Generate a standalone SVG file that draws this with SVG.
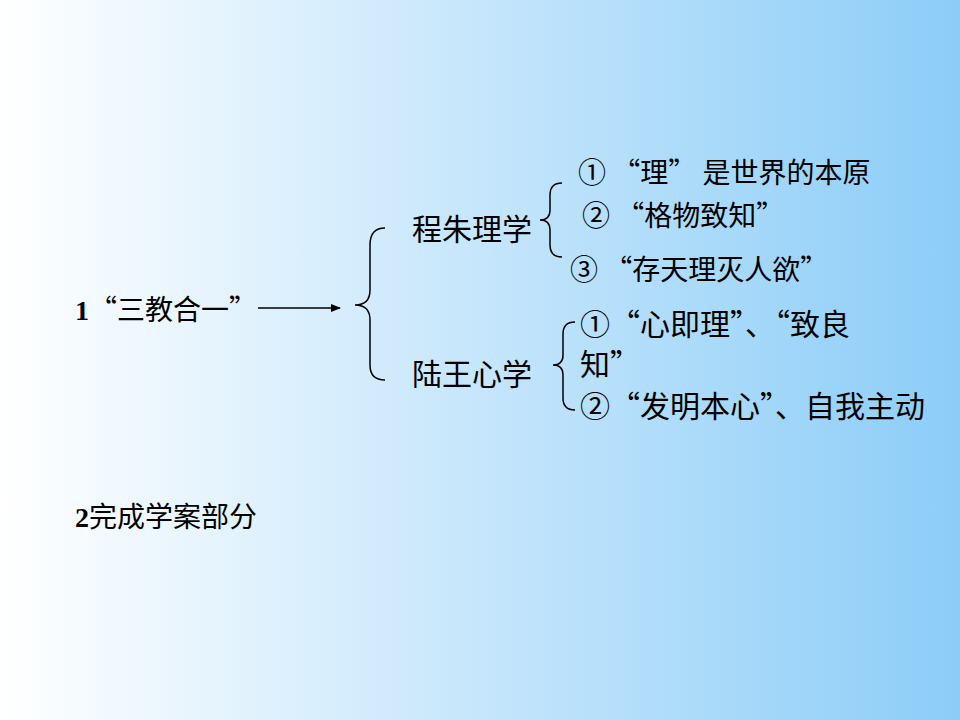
<svg xmlns="http://www.w3.org/2000/svg" width="960" height="720" viewBox="0 0 960 720">
<defs>
<linearGradient id="bg" x1="0" y1="0" x2="1" y2="0">
<stop offset="0" stop-color="#ffffff"/><stop offset="1" stop-color="#8ccdf8"/>
</linearGradient>
<marker id="ah" markerWidth="10" markerHeight="8" refX="9" refY="4" orient="auto" markerUnits="userSpaceOnUse"><path d="M0,0 L10,4 L0,8 Z" fill="#000"/></marker>
<style>
text{font-family:"Noto Sans CJK SC",sans-serif;font-size:30px;fill:#000}
.s{font-size:28px}
.b{font-family:"Liberation Serif",serif;font-weight:bold}
.ln{fill:none;stroke:#000;stroke-width:1.5}
</style>
</defs>
<rect width="960" height="720" fill="url(#bg)"/>
<g id="n1"><text class="s" x="75" y="320"><tspan class="b">1</tspan>“三教合一”</text></g>
<g id="n2"><text x="412" y="240">程朱理学</text></g>
<g id="n3"><text x="412" y="385">陆王心学</text></g>
<g id="n4"><text class="s" x="578" y="183">① “理” 是世界的本原</text></g>
<g id="n5"><text class="s" x="582" y="226">② “格物致知”</text></g>
<g id="n6"><text class="s" x="570" y="280">③ “存天理灭人欲”</text></g>
<g id="n7"><text x="580" y="335">①“心即理”、“致良</text><text x="580" y="375">知”</text></g>
<g id="n8"><text x="580" y="417">②“发明本心”、自我主动</text></g>
<g id="n9"><text class="s" x="75" y="527"><tspan class="b">2</tspan>完成学案部分</text></g>
<g id="connectors">
<line class="ln" x1="258" y1="308" x2="340" y2="308" marker-end="url(#ah)"/>
<path class="ln" d="M385,228 Q370,228 370,245 L370,290 Q370,305 355,305 Q370,305 370,320 L370,365 Q370,380 385,380"/>
<path class="ln" d="M562,183 Q550,183 550,195 L550,210 Q550,220 540,220 Q550,220 550,230 L550,245 Q550,257 562,257"/>
<path class="ln" d="M575,322 Q563,322 563,334 L563,355 Q563,365 553,365 Q563,365 563,375 L563,398 Q563,410 575,410"/>
</g>
</svg>
